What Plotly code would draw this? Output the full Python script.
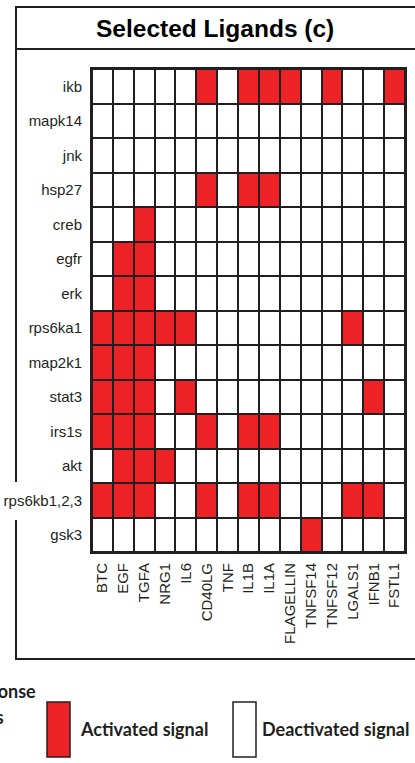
import plotly.graph_objects as go

# Signalling readouts (rows) and ligand treatments (columns)
signals = ["ikb", "mapk14", "jnk", "hsp27", "creb", "egfr", "erk", "rps6ka1",
           "map2k1", "stat3", "irs1s", "akt", "rps6kb1,2,3", "gsk3"]
ligands = ["BTC", "EGF", "TGFA", "NRG1", "IL6", "CD40LG", "TNF", "IL1B", "IL1A",
           "FLAGELLIN", "TNFSF14", "TNFSF12", "LGALS1", "IFNB1", "FSTL1"]

# 1 = activated signal, 0 = deactivated signal
activation = [
    [0, 0, 0, 0, 0, 1, 0, 1, 1, 1, 0, 1, 0, 0, 1],  # ikb
    [0, 0, 0, 0, 0, 0, 0, 0, 0, 0, 0, 0, 0, 0, 0],  # mapk14
    [0, 0, 0, 0, 0, 0, 0, 0, 0, 0, 0, 0, 0, 0, 0],  # jnk
    [0, 0, 0, 0, 0, 1, 0, 1, 1, 0, 0, 0, 0, 0, 0],  # hsp27
    [0, 0, 1, 0, 0, 0, 0, 0, 0, 0, 0, 0, 0, 0, 0],  # creb
    [0, 1, 1, 0, 0, 0, 0, 0, 0, 0, 0, 0, 0, 0, 0],  # egfr
    [0, 1, 1, 0, 0, 0, 0, 0, 0, 0, 0, 0, 0, 0, 0],  # erk
    [1, 1, 1, 1, 1, 0, 0, 0, 0, 0, 0, 0, 1, 0, 0],  # rps6ka1
    [1, 1, 1, 0, 0, 0, 0, 0, 0, 0, 0, 0, 0, 0, 0],  # map2k1
    [1, 1, 1, 0, 1, 0, 0, 0, 0, 0, 0, 0, 0, 1, 0],  # stat3
    [1, 1, 1, 0, 0, 1, 0, 1, 1, 0, 0, 0, 0, 0, 0],  # irs1s
    [0, 1, 1, 1, 0, 0, 0, 0, 0, 0, 0, 0, 0, 0, 0],  # akt
    [1, 1, 1, 0, 0, 1, 0, 1, 1, 0, 0, 0, 1, 1, 0],  # rps6kb1,2,3
    [0, 0, 0, 0, 0, 0, 0, 0, 0, 0, 1, 0, 0, 0, 0],  # gsk3
]

RED = "#EC2227"
INK = "#231F20"
W, H = 415, 763
ML, MR, MT, MB = 92, 10, 69, 211
PW, PH = W - ML - MR, H - MT - MB


def px(x):
    return (x - ML) / PW


def py(y):
    return (H - MB - y) / PH


fig = go.Figure(go.Heatmap(
    z=activation, x=ligands, y=signals,
    zmin=0, zmax=1,
    colorscale=[[0, "white"], [0.5, "white"], [0.5, RED], [1, RED]],
    showscale=False, xgap=2, ygap=2, hoverinfo="x+y",
))

axis_common = dict(showline=True, linecolor=INK, linewidth=2, mirror=True,
                   showgrid=False, zeroline=False, ticks="", automargin=False,
                   tickfont=dict(family="Liberation Sans", size=15, color=INK))
fig.update_xaxes(**axis_common, tickangle=-90, ticklabelstandoff=3,
                 categoryorder="array", categoryarray=ligands)
fig.update_yaxes(**axis_common, autorange="reversed", ticklabelstandoff=5,
                 categoryorder="array", categoryarray=signals)

line = dict(color=INK, width=2)
shapes = [
    # outer panel frame and title separator
    dict(type="line", xref="paper", yref="paper", x0=px(15), x1=px(430), y0=py(7), y1=py(7), line=line),
    dict(type="line", xref="paper", yref="paper", x0=px(15), x1=px(430), y0=py(49), y1=py(49), line=line),
    dict(type="line", xref="paper", yref="paper", x0=px(15), x1=px(430), y0=py(659), y1=py(659), line=line),
    dict(type="line", xref="paper", yref="paper", x0=px(16), x1=px(16), y0=py(6), y1=py(482), line=line),
    dict(type="line", xref="paper", yref="paper", x0=px(16), x1=px(16), y0=py(520), y1=py(660), line=line),
    # legend swatches
    dict(type="rect", xref="paper", yref="paper", x0=px(47), x1=px(70), y0=py(702), y1=py(757),
         fillcolor=RED, line=dict(color=INK, width=1.5)),
    dict(type="rect", xref="paper", yref="paper", x0=px(233), x1=px(256), y0=py(702), y1=py(757),
         fillcolor="white", line=dict(color=INK, width=1.5)),
]

legend_font = dict(family="Lato", size=18, color=INK, weight="bold")
annotations = [
    dict(text="<b>Selected Ligands (c)</b>", xref="paper", yref="paper",
         x=px(214.5), y=py(29), xanchor="center", yanchor="middle", showarrow=False,
         font=dict(family="Liberation Sans", size=24.5, color="black")),
    dict(text="Response", xref="paper", yref="paper", x=px(38), y=py(691),
         xanchor="right", yanchor="middle", showarrow=False, font=legend_font),
    dict(text="signals", xref="paper", yref="paper", x=px(6), y=py(717),
         xanchor="right", yanchor="middle", showarrow=False, font=legend_font),
    dict(text="Activated signal", xref="paper", yref="paper", x=px(78), y=py(729),
         xanchor="left", yanchor="middle", showarrow=False, font=legend_font),
    dict(text="Deactivated signal", xref="paper", yref="paper", x=px(260), y=py(729),
         xanchor="left", yanchor="middle", showarrow=False, font=legend_font),
]

fig.update_layout(
    width=W, height=H,
    margin=dict(l=ML, r=MR, t=MT, b=MB, autoexpand=False),
    paper_bgcolor="white", plot_bgcolor=INK,
    shapes=shapes, annotations=annotations,
    showlegend=False,
)

fig.write_html("out.html")
